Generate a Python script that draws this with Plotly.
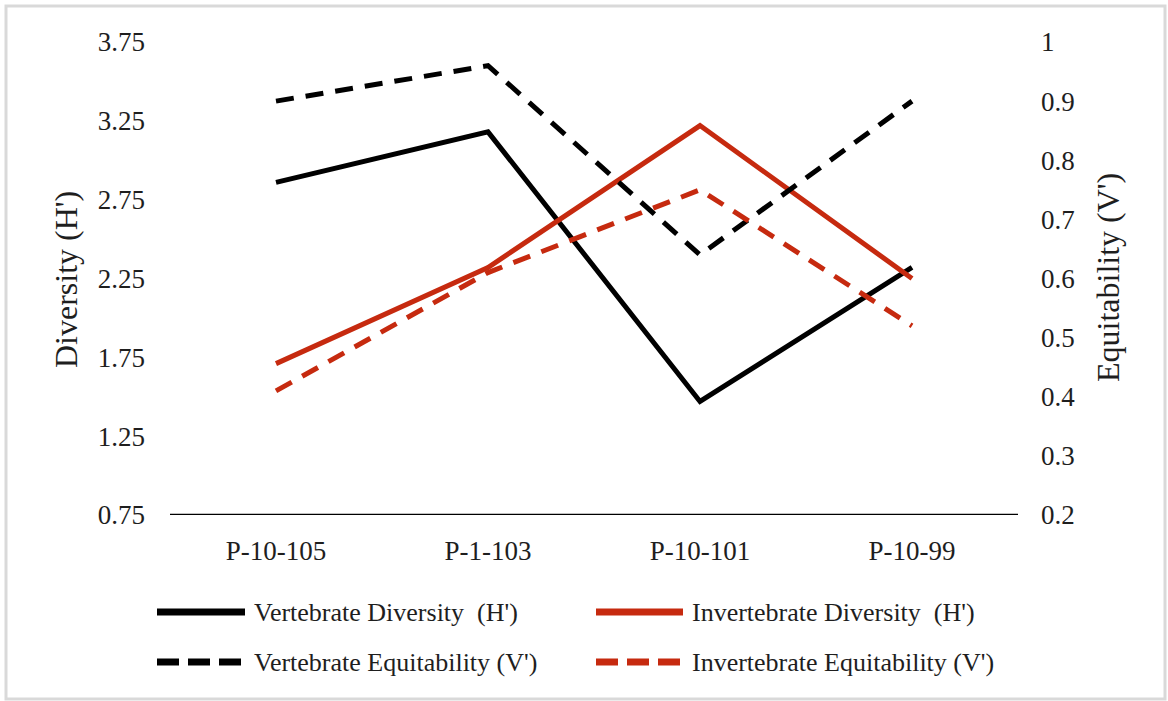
import plotly.graph_objects as go

# Sampling sites along the transect
sites = ["P-10-105", "P-1-103", "P-10-101", "P-10-99"]

# Shannon diversity (H') per site
vertebrate_diversity = [2.86, 3.18, 1.47, 2.32]
invertebrate_diversity = [1.71, 2.32, 3.22, 2.25]

# Equitability (V') per site
vertebrate_equitability = [0.90, 0.96, 0.64, 0.90]
invertebrate_equitability = [0.41, 0.61, 0.75, 0.52]

# Axis ticks
h_ticks = [0.75, 1.25, 1.75, 2.25, 2.75, 3.25, 3.75]
h_tick_text = ["0.75", "1.25", "1.75", "2.25", "2.75", "3.25", "3.75"]
v_ticks = [0.2, 0.3, 0.4, 0.5, 0.6, 0.7, 0.8, 0.9, 1.0]
v_tick_text = ["0.2", "0.3", "0.4", "0.5", "0.6", "0.7", "0.8", "0.9", "1"]

BLACK = "#000000"
RED = "#C62A0F"
TEXT = "#1E1E1E"
FONT = "Liberation Serif, Times New Roman, serif"

series = [
    ("Vertebrate Diversity  (H')", vertebrate_diversity, BLACK, "solid", "y"),
    ("Invertebrate Diversity  (H')", invertebrate_diversity, RED, "solid", "y"),
    ("Vertebrate Equitability (V')", vertebrate_equitability, BLACK, "18px,12px", "y2"),
    ("Invertebrate Equitability (V')", invertebrate_equitability, RED, "18px,12px", "y2"),
]

fig = go.Figure()
for name, vals, color, dash, yax in series:
    fig.add_trace(go.Scatter(
        x=sites, y=vals, name=name, mode="lines", yaxis=yax,
        line=dict(color=color, width=5, dash=dash),
        showlegend=False,
    ))

# Plot area geometry (pixels) used to place the hand-built legend
W, H = 1168, 701
L, R, T, B = 170, 150, 42, 186
pw, ph = W - L - R, H - T - B


def px_x(px):
    return (px - L) / pw


def px_y(py):
    return (H - B - py) / ph


shapes = []
annotations = []

# Legend: two columns, two rows
legend_slots = [(157, 245, 252, 612), (596, 683, 690, 612),
                (157, 245, 252, 662), (596, 683, 690, 662)]
for (name, _, color, dash, _), (x0, x1, xt, yy) in zip(series, legend_slots):
    shapes.append(dict(
        type="line", xref="paper", yref="paper",
        x0=px_x(x0), x1=px_x(x1), y0=px_y(yy), y1=px_y(yy),
        line=dict(color=color, width=7,
                  dash="solid" if dash == "solid" else "22px,9px"),
    ))
    annotations.append(dict(
        text=name, xref="paper", yref="paper",
        x=px_x(xt), y=px_y(yy), xanchor="left", yanchor="middle",
        showarrow=False, font=dict(family=FONT, size=26, color=TEXT),
    ))

# Axis titles
annotations.append(dict(
    text="Diversity (H')", xref="paper", yref="paper",
    x=px_x(66), y=px_y(280), textangle=-90, showarrow=False,
    xanchor="center", yanchor="middle",
    font=dict(family=FONT, size=32, color=TEXT),
))
annotations.append(dict(
    text="Equitability (V')", xref="paper", yref="paper",
    x=px_x(1108), y=px_y(278), textangle=-90, showarrow=False,
    xanchor="center", yanchor="middle",
    font=dict(family=FONT, size=32, color=TEXT),
))

# Light grey frame around the whole chart
shapes.append(dict(
    type="rect", xref="paper", yref="paper",
    x0=px_x(6), x1=px_x(1165), y0=px_y(6), y1=px_y(699),
    line=dict(color="#D9D9D9", width=3), layer="below",
))

fig.update_layout(
    width=W, height=H,
    margin=dict(l=L, r=R, t=T, b=B),
    paper_bgcolor="white", plot_bgcolor="white",
    font=dict(family=FONT, size=27, color=TEXT),
    xaxis=dict(
        type="category", range=[-0.5, 3.5],
        showgrid=False, zeroline=False, showline=False,
        ticks="", ticklabelstandoff=17,
        tickfont=dict(family=FONT, size=27, color=TEXT),
    ),
    yaxis=dict(
        range=[0.75, 3.75], tickvals=h_ticks, ticktext=h_tick_text,
        showgrid=False, zeroline=False, showline=False,
        ticks="", ticklabelstandoff=24,
        tickfont=dict(family=FONT, size=27, color=TEXT),
    ),
    yaxis2=dict(
        range=[0.2, 1.0], tickvals=v_ticks, ticktext=v_tick_text,
        overlaying="y", side="right",
        showgrid=False, zeroline=False, showline=False,
        ticks="", ticklabelstandoff=22,
        tickfont=dict(family=FONT, size=27, color=TEXT),
    ),
    shapes=shapes + [dict(
        type="line", xref="paper", yref="y",
        x0=0, x1=1, y0=0.75, y1=0.75,
        line=dict(color="#000000", width=2.5),
    )],
    annotations=annotations,
)

fig.write_html("out.html")
